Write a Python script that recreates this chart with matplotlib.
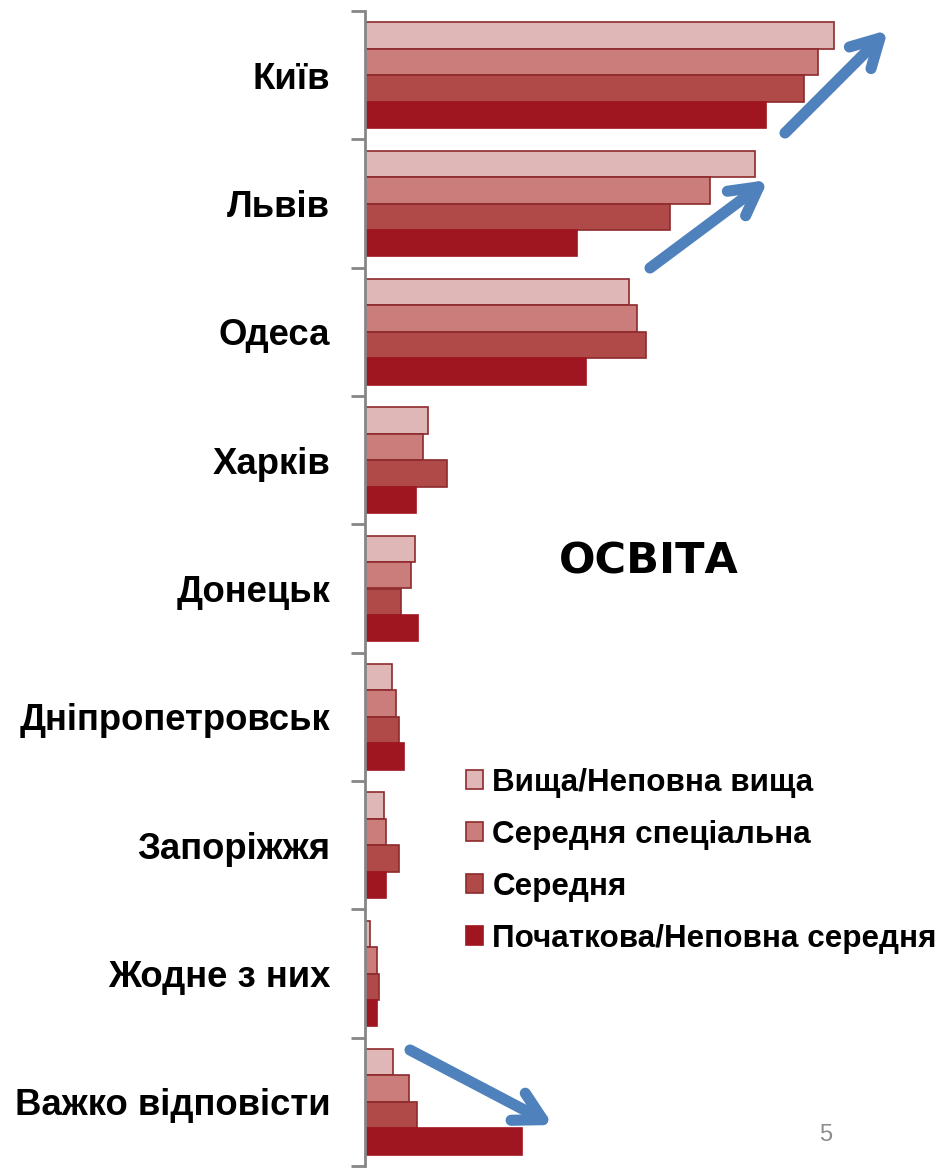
import matplotlib
matplotlib.use("Agg")
import matplotlib.pyplot as plt
import numpy as np

categories = ["Київ", "Львів", "Одеса", "Харків", "Донецьк",
              "Дніпропетровськ", "Запоріжжя", "Жодне з них", "Важко відповісти"]
series_names = ["Вища/Неповна вища", "Середня спеціальна", "Середня",
                "Початкова/Неповна середня"]
vyshcha = [46.9, 39.0, 26.4, 6.3, 5.0, 2.7, 1.9, 0.5, 2.8]
ser_spec = [45.3, 34.5, 27.2, 5.8, 4.6, 3.1, 2.1, 1.2, 4.4]
serednia = [43.9, 30.5, 28.1, 8.2, 3.6, 3.4, 3.4, 1.4, 5.2]
pochatkova = [40.1, 21.2, 22.1, 5.1, 5.3, 3.9, 2.1, 1.2, 15.7]
series = [vyshcha, ser_spec, serednia, pochatkova]
colors = ["#DFB7B7", "#CB7D7C", "#B04A48", "#A01620"]
edges = ["#8E2A2C", "#8E2A2C", "#8E2A2C", "#A01620"]

W, H = 944, 1168
fig = plt.figure(figsize=(W / 100, H / 100), dpi=100)
ax = fig.add_axes([365 / W, 1 - 1166 / H, 500 / W, 1155 / H])

n = len(categories)
bh = 0.206
y = np.arange(n)
for i, (vals, c, ec) in enumerate(zip(series, colors, edges)):
    pos = y - 1.5 * bh + i * bh
    ax.barh(pos, vals, height=bh, color=c, edgecolor=ec, linewidth=1.2,
            label=series_names[i], zorder=2)

ax.set_ylim(n - 0.5, -0.5)
ax.set_xlim(0, 50)
ax.set_yticks(y)
ax.set_yticklabels(categories, fontsize=26.3, fontweight="bold",
                   family=["Liberation Sans", "DejaVu Sans"])
ax.tick_params(axis="y", length=0, pad=25)
ax.set_yticks(np.arange(-0.5, n, 1.0), minor=True)
ax.tick_params(axis="y", which="minor", length=10, width=2, color="#868686")
ax.set_xticks([])
for s in ["top", "right", "bottom"]:
    ax.spines[s].set_visible(False)
ax.spines["left"].set_color("#868686")
ax.spines["left"].set_linewidth(2)

leg = ax.legend(loc="upper left", bbox_to_anchor=(450 / W, 1 - 752 / H),
                bbox_transform=fig.transFigure, frameon=False,
                prop={"family": ["Liberation Sans", "DejaVu Sans"],
                      "weight": "bold", "size": 22.6},
                handlelength=0.55, handleheight=0.55, handletextpad=0.3,
                labelspacing=0.7, borderpad=0)

fig.text(649 / W, 1 - 561 / H, "ОСВІТА", fontsize=31, fontweight="heavy",
         family=["DejaVu Sans"], ha="center", va="center")
fig.text(826 / W, 1 - 1135 / H, "5", fontsize=17, color="#8C8C8C",
         family=["Liberation Sans"], ha="center", va="center")

arrows = [((785, 133), (888, 30)), ((650, 268), (768, 180)), ((410, 1050), (553, 1125))]
for (x0, y0), (x1, y1) in arrows:
    ax.annotate("", xy=(x1 / W, 1 - y1 / H), xytext=(x0 / W, 1 - y0 / H),
                xycoords="figure fraction", textcoords="figure fraction",
                arrowprops=dict(arrowstyle="->,head_length=2.0,head_width=1.1",
                                color="#4F81BD", lw=8, capstyle="round",
                                shrinkA=0, shrinkB=0))

fig.savefig("out.png", dpi=100)
